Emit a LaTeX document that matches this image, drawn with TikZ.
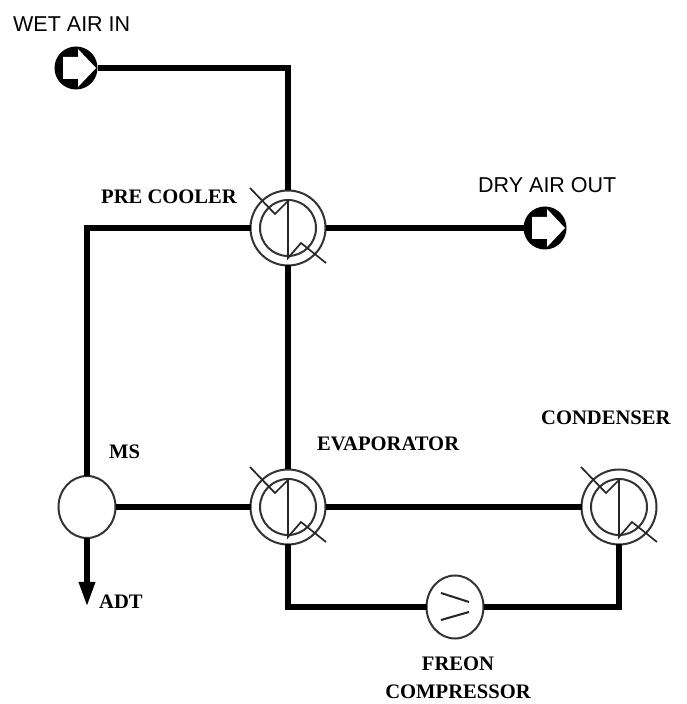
\documentclass[tikz,border=0pt]{standalone}
\usepackage{fontspec}
\setmainfont{Liberation Serif}
\newfontfamily\sansf{Liberation Sans}
\usetikzlibrary{arrows.meta,shapes.geometric,calc}
\tikzset{
  pipe/.style={line width=6pt,line cap=butt,line join=miter},
  fine/.style={line width=1.7pt,black!85},
  hxouter/.style={circle,draw=black!80,line width=2pt,fill=white,minimum size=75pt,inner sep=0pt,outer sep=0pt},
  hxinner/.style={circle,draw=black!80,line width=2pt,minimum size=56pt,inner sep=0pt,outer sep=0pt},
  portnode/.style={circle,fill=black,minimum size=43pt,inner sep=0pt,outer sep=0pt},
  blob/.style={ellipse,draw=black!80,line width=2pt,fill=white,minimum width=57pt,minimum height=62pt,inner sep=0pt,outer sep=0pt},
  seriflabel/.style={font=\fontsize{20.6}{22}\selectfont\bfseries,inner sep=0pt,align=center},
  sanslabel/.style={font=\sansf\fontsize{21.5}{23}\selectfont,inner sep=0pt}
}
\newcommand{\hxdraw}[3]{%
  \node[hxouter] (#1) at (#2,#3) {};
  \node[hxinner] (#1in) at (#2,#3) {};
  \draw[fine] ($(#1)+(-38pt,40pt)$) -- ($(#1)+(-13pt,14pt)$) -- ($(#1)+(0pt,27pt)$) -- ($(#1)+(0pt,-30pt)$) -- ($(#1)+(13pt,-15pt)$) -- ($(#1)+(38pt,-35pt)$);
}
\newcommand{\portdraw}[3]{%
  \node[portnode] (#1) at (#2,#3) {};
  \fill[white] ($(#1)+(-13pt,11pt)$) -- ($(#1)+(2pt,11pt)$) -- ($(#1)+(2pt,19pt)$) -- ($(#1)+(20pt,0pt)$) -- ($(#1)+(2pt,-19pt)$) -- ($(#1)+(2pt,-11pt)$) -- ($(#1)+(-13pt,-11pt)$) -- cycle;
}
\begin{document}
\begin{tikzpicture}[x=1pt,y=1pt]
\useasboundingbox (0,0) rectangle (687,704);
% y positions measured from the top: y = 704 - py
\portdraw{wet}{76}{636}
\portdraw{dry}{545}{476}
\hxdraw{pre}{288}{476}
\hxdraw{evap}{288}{197}
\hxdraw{cond}{619}{197}
\node[blob] (ms) at (87,197) {};
\node[blob,minimum width=57pt,minimum height=63pt] (comp) at (455,97) {};
\draw[fine,line width=2pt] ($(comp)+(-14pt,14pt)$) -- ($(comp)+(14pt,5pt)$);
\draw[fine,line width=2pt] ($(comp)+(-14pt,-13pt)$) -- ($(comp)+(14pt,-5pt)$);
\coordinate (adt) at (87,97);
\draw[pipe] (wet.east) -| (pre.north);
\draw[pipe] (pre.east) -- (dry.west);
\draw[pipe] (pre.west) -| (ms.north);
\draw[pipe] (pre.south) -- (evap.north);
\draw[pipe] (ms.east) -- (evap.west);
\draw[pipe] (evap.east) -- (cond.west);
\draw[pipe] (evap.south) |- (comp.west);
\draw[pipe] (comp.east) -| (cond.south);
\draw[pipe,-{Triangle[length=25pt,width=15pt]}] (ms.south) -- (adt);
\node[sanslabel,anchor=west] (t1) at (13,680) {WET AIR IN};
\node[sanslabel,anchor=west] (t2) at (478,519) {DRY AIR OUT};
\node[seriflabel,anchor=west] (t3) at (101,507) {PRE COOLER};
\node[seriflabel,anchor=west] (t4) at (317,260) {EVAPORATOR};
\node[seriflabel,anchor=west] (t5) at (541,286) {CONDENSER};
\node[seriflabel,anchor=west] (t6) at (109,252) {MS};
\node[seriflabel,anchor=west] (t7) at (99,102) {ADT};
\node[seriflabel] (t8) at (458,26) {FREON\\[6pt]COMPRESSOR};
\end{tikzpicture}
\end{document}
